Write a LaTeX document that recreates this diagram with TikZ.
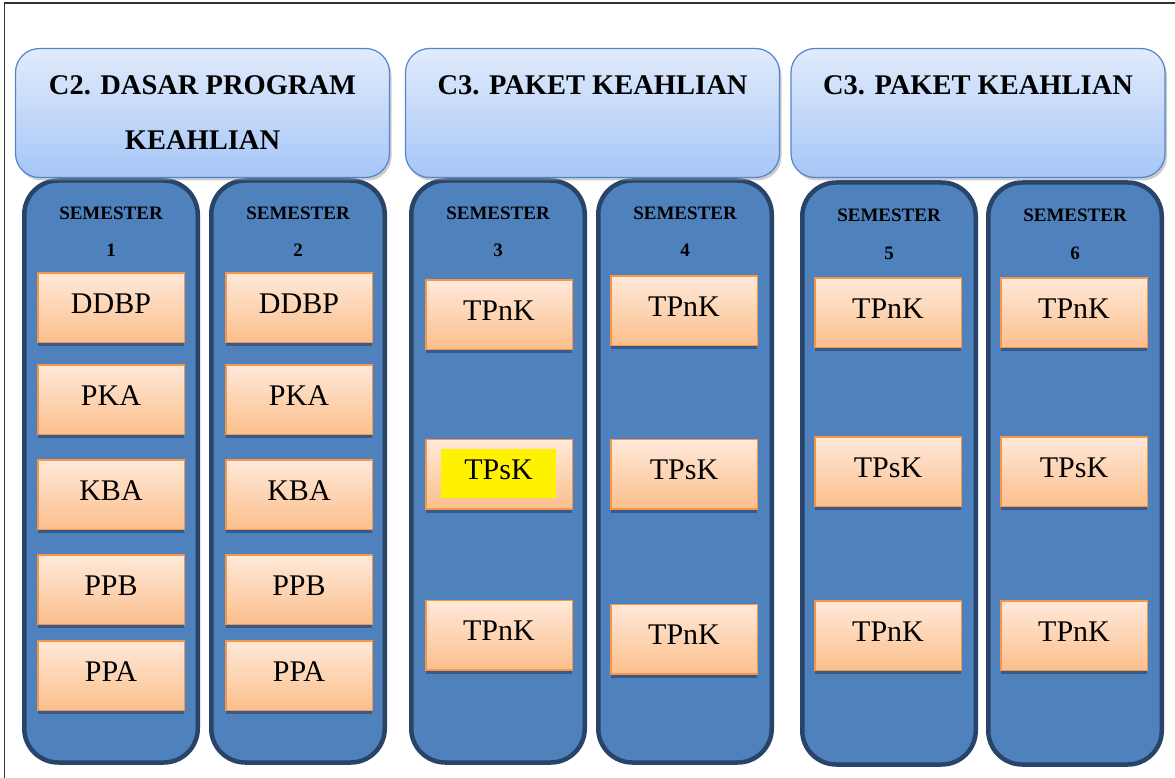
\documentclass[tikz,border=0pt]{standalone}
\usepackage{fontspec}
\setmainfont{Liberation Serif}
\usetikzlibrary{shadows}
\definecolor{headtop}{HTML}{E1EBFC}
\definecolor{headbot}{HTML}{A6C6F7}
\definecolor{headline}{HTML}{5485C8}
\definecolor{semfill}{HTML}{4F81BD}
\definecolor{semline}{HTML}{284468}
\definecolor{boxtop}{HTML}{FFE9DA}
\definecolor{boxbot}{HTML}{FBBF8C}
\definecolor{boxline}{HTML}{F79646}
\definecolor{boxshade}{HTML}{355B8A}
\tikzset{
  header/.style={draw=headline, line width=1.2pt, rounded corners=24pt, top color=headtop, bottom color=headbot,
    minimum width=374pt, minimum height=129pt,
    drop shadow={shadow xshift=2pt, shadow yshift=-3pt, fill=black!40}},
  headtext/.style={font=\fontsize{28.5}{55}\selectfont\bfseries, align=center},
  semcol/.style={draw=semline, fill=semfill, line width=4.5pt, rounded corners=34pt,
    minimum width=173.5pt, minimum height=582pt},
  semtext/.style={font=\fontsize{19}{23}\selectfont\bfseries},
  mapel/.style={draw=boxline, line width=1.5pt, top color=boxtop, bottom color=boxbot,
    minimum width=146.5pt, minimum height=69.5pt, text depth=8pt, font=\fontsize{30}{36}\selectfont,
    drop shadow={shadow xshift=0pt, shadow yshift=-4pt, fill=boxshade, opacity=1}},
}
\begin{document}
\begin{tikzpicture}[x=1pt,y=-1pt]
\useasboundingbox (0,0) rectangle (1175,778);
% frame
\draw [black!80, line width=1.2pt] (4.5,778) -- (4.5,3) -- (1175,3);

% semester columns
\node [semcol] (s1) at (111,471.5) {};
\node [semcol] (s2) at (298,471.5) {};
\node [semcol] (s3) at (498,471.5) {};
\node [semcol] (s4) at (685,471.5) {};
\node [semcol] (s5) at (889,473.5) {};
\node [semcol] (s6) at (1075,473.5) {};

% headers
\node [header] (h1) at (202.5,113) {};
\node [header] (h2) at (592.5,113) {};
\node [header] (h3) at (978,113) {};
\node [headtext] (h1t) at (202.5,112.5) {C2. DASAR PROGRAM\\KEAHLIAN};
\node [headtext] (h2t) at (592.5,85) {C3. PAKET KEAHLIAN};
\node [headtext] (h3t) at (978,85) {C3. PAKET KEAHLIAN};

% semester labels
\node [semtext] (s1a) at (111,213) {SEMESTER};
\node [semtext] (s1b) at (111,250) {1};
\node [semtext] (s2a) at (298,213) {SEMESTER};
\node [semtext] (s2b) at (298,250) {2};
\node [semtext] (s3a) at (498,213) {SEMESTER};
\node [semtext] (s3b) at (498,250) {3};
\node [semtext] (s4a) at (685,213) {SEMESTER};
\node [semtext] (s4b) at (685,250) {4};
\node [semtext] (s5a) at (889,215) {SEMESTER};
\node [semtext] (s5b) at (889,253) {5};
\node [semtext] (s6a) at (1075,215) {SEMESTER};
\node [semtext] (s6b) at (1075,253) {6};

% semester 1
\node [mapel] (m11) at (111,307.5) {DDBP};
\node [mapel] (m12) at (111,399.5) {PKA};
\node [mapel] (m13) at (111,494.5) {KBA};
\node [mapel] (m14) at (111,589.5) {PPB};
\node [mapel] (m15) at (111,675.5) {PPA};

% semester 2
\node [mapel] (m21) at (299,307.5) {DDBP};
\node [mapel] (m22) at (299,399.5) {PKA};
\node [mapel] (m23) at (299,494.5) {KBA};
\node [mapel] (m24) at (299,589.5) {PPB};
\node [mapel] (m25) at (299,675.5) {PPA};

% semester 3
\node [mapel] (m31) at (499,314.5) {TPnK};
\node [mapel] (m32) at (499,474) {};
\node [fill=yellow, minimum width=115pt, minimum height=49pt, text depth=8pt, font=\fontsize{30}{36}\selectfont] (m32t) at (498.5,473.5) {TPsK};
\node [mapel] (m33) at (499,635) {TPnK};

% semester 4
\node [mapel] (m41) at (684,310.5) {TPnK};
\node [mapel] (m42) at (684,474) {TPsK};
\node [mapel] (m43) at (684,639) {TPnK};

% semester 5
\node [mapel] (m51) at (888,312.5) {TPnK};
\node [mapel] (m52) at (888,471.5) {TPsK};
\node [mapel] (m53) at (888,635.5) {TPnK};

% semester 6
\node [mapel] (m61) at (1074,312.5) {TPnK};
\node [mapel] (m62) at (1074,471.5) {TPsK};
\node [mapel] (m63) at (1074,635.5) {TPnK};

\end{tikzpicture}
\end{document}
